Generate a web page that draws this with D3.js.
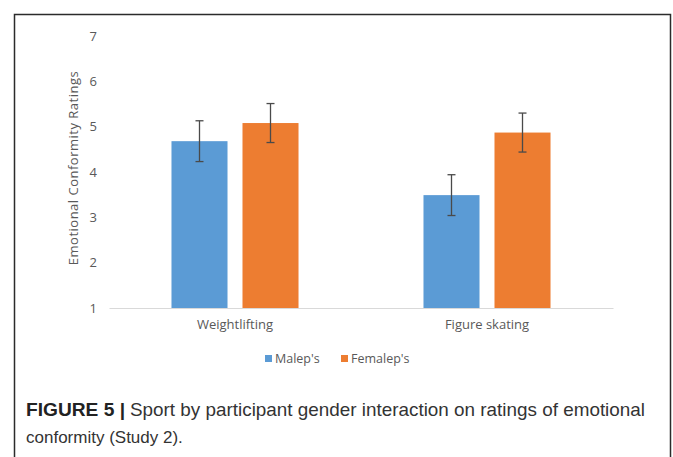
<!DOCTYPE html>
<html>
<head>
<meta charset="utf-8">
<script src="https://cdn.jsdelivr.net/npm/d3@7"></script>
<style>
  html, body { margin: 0; padding: 0; background: #fff; }
  svg { display: block; }
</style>
</head>
<body>
<svg id="chart" width="673" height="457"></svg>
<script>
const categories = ["Weightlifting", "Figure skating"];
const seriesNames = ["Malep's", "Femalep's"];
const maleValues = [4.68, 3.49];
const femaleValues = [5.08, 4.87];
const maleErrors = [0.45, 0.45];
const femaleErrors = [0.43, 0.43];
const yTicks = [1, 2, 3, 4, 5, 6, 7];
const captionBold = "FIGURE 5 |";
const captionLine1 = "Sport by participant gender interaction on ratings of emotional";
const captionLine2 = "conformity (Study 2).";
const yTitle = "Emotional Conformity Ratings";

const colors = ["#5B9BD5", "#ED7D31"];
const values = [maleValues, femaleValues];
const errors = [maleErrors, femaleErrors];

const svg = d3.select("#chart");
const font = "'Open Sans', 'Noto Sans', sans-serif";

// frame
svg.append("path")
  .attr("d", "M14.5,470 L14.5,14.5 L670.5,14.5 L670.5,470")
  .attr("fill", "none").attr("stroke", "#2b2b2b").attr("stroke-width", 1.5);

const y = d3.scaleLinear().domain([1, 7]).range([308, 36]);
const x0 = d3.scaleBand().domain(categories).range([109, 613]).padding(0);
const x1 = d3.scaleBand().domain(seriesNames).range([0, x0.bandwidth()])
  .paddingInner(0.211).paddingOuter(0.88);

// y axis labels
const yAxis = d3.axisLeft(y).tickValues(yTicks).tickSize(0).tickPadding(0).tickFormat(d3.format("d"));
const gy = svg.append("g").attr("transform", "translate(97,0)").call(yAxis);
gy.select(".domain").remove();
gy.selectAll("text").attr("font-family", font).attr("font-size", 13).attr("fill", "#595959");

// x axis
const xAxis = d3.axisBottom(x0).tickSize(0).tickPadding(12);
const gx = svg.append("g").attr("transform", "translate(0,308)").call(xAxis);
gx.select(".domain").attr("stroke", "#d9d9d9").attr("stroke-width", 1);
gx.selectAll("text").attr("font-family", font).attr("font-size", 13).attr("fill", "#595959");

// bars
categories.forEach((cat, ci) => {
  seriesNames.forEach((s, si) => {
    const v = values[si][ci];
    const e = errors[si][ci];
    const bx = x0(cat) + x1(s);
    const bw = x1.bandwidth();
    svg.append("rect")
      .attr("x", bx).attr("y", y(v))
      .attr("width", bw).attr("height", y(1) - y(v))
      .attr("fill", colors[si]);
    const cx = bx + bw / 2;
    const g = svg.append("g").attr("stroke", "#4a4a4a").attr("stroke-width", 1.3);
    g.append("line").attr("x1", cx).attr("x2", cx).attr("y1", y(v + e)).attr("y2", y(v - e));
    g.append("line").attr("x1", cx - 4).attr("x2", cx + 4).attr("y1", y(v + e)).attr("y2", y(v + e));
    g.append("line").attr("x1", cx - 4).attr("x2", cx + 4).attr("y1", y(v - e)).attr("y2", y(v - e));
  });
});

// y title
svg.append("text")
  .attr("transform", "translate(78,168) rotate(-90)")
  .attr("text-anchor", "middle")
  .attr("font-family", font).attr("font-size", 13).attr("letter-spacing", 0.5).attr("fill", "#595959")
  .text(yTitle);

// legend
const legendX = [265, 341];
seriesNames.forEach((s, si) => {
  svg.append("rect").attr("x", legendX[si]).attr("y", 355).attr("width", 7).attr("height", 7).attr("fill", colors[si]);
  svg.append("text").attr("x", legendX[si] + 10).attr("y", 362.5)
    .attr("font-family", font).attr("font-size", 12.5).attr("fill", "#595959").text(s);
});

// caption
const capFont = "'Liberation Sans', Arial, sans-serif";
svg.append("text").attr("x", 26).attr("y", 416)
  .attr("font-family", capFont).attr("font-size", 18.5).attr("font-weight", "bold").attr("fill", "#222")
  .attr("textLength", 99).attr("lengthAdjust", "spacingAndGlyphs")
  .text(captionBold);
svg.append("text").attr("x", 130).attr("y", 416)
  .attr("font-family", capFont).attr("font-size", 18.5).attr("fill", "#333")
  .attr("textLength", 515).attr("lengthAdjust", "spacingAndGlyphs")
  .text(captionLine1);
svg.append("text").attr("x", 26).attr("y", 443)
  .attr("font-family", capFont).attr("font-size", 17).attr("fill", "#333")
  .text(captionLine2);
</script>
</body>
</html>
